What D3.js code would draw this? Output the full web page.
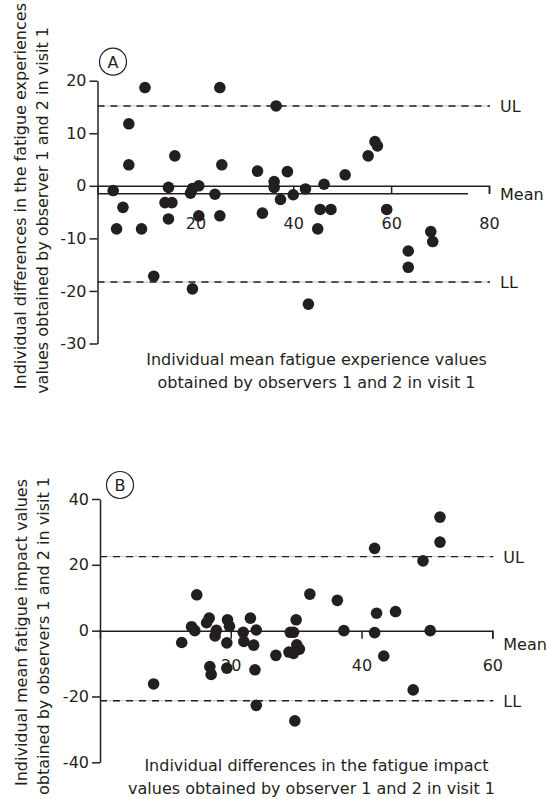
<!DOCTYPE html>
<html>
<head>
<meta charset="utf-8">
<script src="https://cdn.jsdelivr.net/npm/d3@7"></script>
<style>
  body { margin: 0; background: #fff; }
  svg text { font-family: "DejaVu Sans", sans-serif; fill: #231f20; }
</style>
</head>
<body>
<div id="chart"></div>
<script>
// Panel A - fatigue experience (Bland-Altman)
const meanA = [3.2, 3.9, 5.2, 6.4, 6.4, 9.0, 9.7, 11.5, 14.5, 13.8, 15.2, 14.5, 15.8, 19.0, 19.4,
    20.7, 19.4, 20.7, 24.0, 25.0, 25.4, 25.0, 32.7, 33.7, 36.5, 36.1, 36.1, 37.4, 38.8, 40.0,
    42.5, 43.1, 45.0, 45.5, 46.3, 47.7, 50.6, 55.3, 56.7, 57.2, 59.1, 63.5, 63.5, 68.1, 68.5];
const diffA = [-0.9, -8.2, -4.1, 11.8, 4.0, -8.2, 18.7, -17.2, -0.3, -3.2, -3.2, -6.3, 5.7, -1.4, -0.5,
    0.0, -19.6, -5.7, -1.6, 18.7, 4.0, -5.7, 2.8, -5.2, 15.2, 0.8, -0.3, -2.6, 2.7, -1.7,
    -0.6, -22.5, -8.2, -4.5, 0.3, -4.5, 2.1, 5.7, 8.4, 7.6, -4.5, -12.4, -15.5, -8.7, -10.6];
const xTicksA = [20, 40, 60, 80];
const yTicksA = [-30, -20, -10, 0, 10, 20];
const ulA = 15.2, llA = -18.3, biasA = -1.5, biasEndA = 75.7;

// Panel B - fatigue impact
const meanB = [8.2, 12.5, 14.0, 14.5, 14.8, 16.3, 16.7, 16.8, 17.0, 17.6, 17.8, 19.5, 19.8, 19.4, 19.4,
    21.9, 22.0, 23.0, 23.9, 23.5, 23.7, 23.9, 26.9, 28.9, 29.1, 29.6, 30.0, 30.1, 30.5, 29.6,
    29.8, 32.1, 36.3, 37.3, 42.0, 42.0, 42.3, 43.4, 45.2, 47.9, 49.4, 50.5, 52.0, 52.0];
const diffB = [-16.2, -3.6, 1.2, 0, 10.9, 2.4, 3.8, -10.9, -13.3, -1.6, 0.1, 3.3, 1.3, -3.7, -11.4,
    -0.5, -3.3, 3.8, 0.2, -4.4, -11.9, -22.7, -7.5, -6.5, -0.5, -0.5, 3.3, -4.3, -5.6, -6.9,
    -27.4, 11.1, 9.2, 0, 25.0, -0.6, 5.3, -7.7, 5.8, -18.0, 21.2, 0, 34.5, 26.9];
const xTicksB = [20, 40, 60];
const yTicksB = [-40, -20, 0, 20, 40];
const ulB = 22.5, llB = -21.3;

const ink = "#231f20";
const fs = 16;
const width = 546;
const height = 799;

// Create the SVG container.
const svg = d3.select("#chart").append("svg")
    .attr("width", width)
    .attr("height", height);

function drawPanel(p) {
    const x = d3.scaleLinear().domain(p.xDomain).range(p.xRange);
    const y = d3.scaleLinear().domain(p.yDomain).range(p.yRange);
    const g = svg.append("g").style("color", ink);
    const xEnd = x(p.xDomain[1]);

    // y axis
    const gy = g.append("g")
        .attr("transform", `translate(${x(0)},0)`)
        .call(d3.axisLeft(y).tickValues(p.yTicks).tickSize(8).tickSizeOuter(0)
            .tickPadding(3).tickFormat(d => String(d)))
        .attr("font-size", fs)
        .attr("font-family", "DejaVu Sans");
    gy.selectAll("path, line").attr("stroke-width", 1.5);

    // x axis sitting on zero
    const gx = g.append("g")
        .attr("transform", `translate(0,${y(0)})`)
        .call(d3.axisBottom(x).tickValues(p.xTicks).tickSize(8).tickSizeOuter(8)
            .tickPadding(p.xPad).tickFormat(d => String(d)))
        .attr("font-size", fs)
        .attr("font-family", "DejaVu Sans");
    gx.selectAll("path, line").attr("stroke-width", 1.5);

    // limits of agreement
    [p.ul, p.ll].forEach(v => {
        g.append("line")
            .attr("x1", x(0)).attr("x2", xEnd + 1)
            .attr("y1", y(v)).attr("y2", y(v))
            .attr("stroke", "#b5b5b5").attr("stroke-width", 0.8);
        g.append("line")
            .attr("x1", x(0)).attr("x2", xEnd + 1)
            .attr("y1", y(v)).attr("y2", y(v))
            .attr("stroke", ink).attr("stroke-width", 1.4)
            .attr("stroke-dasharray", "7,6");
    });

    // mean difference line (panel A only)
    if (p.bias !== null) {
        g.append("line")
            .attr("x1", x(0)).attr("x2", x(p.biasEnd))
            .attr("y1", y(p.bias)).attr("y2", y(p.bias))
            .attr("stroke", ink).attr("stroke-width", 1.5);
    }

    // right hand labels
    const lx = xEnd + 11;
    g.append("text").attr("x", lx).attr("y", y(p.ul) + 6).attr("font-size", fs).text("UL");
    g.append("text").attr("x", lx).attr("y", y(p.ll) + 6).attr("font-size", fs).text("LL");
    g.append("text").attr("x", lx).attr("y", y(p.bias !== null ? p.bias : 0) + p.meanDy)
        .attr("font-size", fs).text("Mean");

    // points
    g.selectAll("circle.pt")
        .data(p.xs.map((d, i) => [d, p.ys[i]]))
        .enter()
        .append("circle")
        .attr("class", "pt")
        .attr("cx", d => x(d[0]))
        .attr("cy", d => y(d[1]))
        .attr("r", 5.8)
        .attr("fill", ink);

    // panel letter in a circle
    const cx = x(0) + p.tagDx, cy = y(p.yDomain[1]) - p.tagDy;
    g.append("circle").attr("cx", cx).attr("cy", cy).attr("r", 13.5)
        .attr("fill", "none").attr("stroke", ink).attr("stroke-width", 1.2);
    g.append("text").attr("x", cx).attr("y", cy + 6)
        .attr("text-anchor", "middle").attr("font-size", fs).text(p.tag);

    // x axis title
    p.xTitle.forEach((t, i) => {
        g.append("text")
            .attr("x", p.xTitleX[i])
            .attr("y", p.xTitleY + i * 23)
            .attr("text-anchor", "middle")
            .attr("font-size", fs)
            .text(t);
    });

    // y axis title, anchored at its top end
    p.yTitle.forEach((t, i) => {
        g.append("text")
            .attr("transform", `translate(${p.yTitleX + i * 22},${p.yTitleTop[i]}) rotate(-90)`)
            .attr("text-anchor", "end")
            .attr("font-size", fs)
            .text(t);
    });
}

drawPanel({
    xs: meanA, ys: diffA,
    xDomain: [0, 80], xRange: [97.5, 489],
    yDomain: [-30, 20], yRange: [343.5, 80.7],
    xTicks: xTicksA, yTicks: yTicksA, xPad: 24,
    ul: ulA, ll: llA, bias: biasA, biasEnd: biasEndA, meanDy: 6,
    tag: "A", tagDx: 15.5, tagDy: 19,
    xTitle: ["Individual mean fatigue experience values",
             "obtained by observers 1 and 2 in visit 1"],
    xTitleX: [316.5, 316.5], xTitleY: 365,
    yTitle: ["Individual differences in the fatigue experiences",
             "values obtained by observer 1 and 2 in visit 1"],
    yTitleX: 26, yTitleTop: [3, 27]
});

drawPanel({
    xs: meanB, ys: diffB,
    xDomain: [0, 60], xRange: [100, 492.3],
    yDomain: [-40, 40], yRange: [762.3, 499],
    xTicks: xTicksB, yTicks: yTicksB, xPad: 21,
    ul: ulB, ll: llB, bias: null, biasEnd: null, meanDy: 19,
    tag: "B", tagDx: 20, tagDy: 14,
    xTitle: ["Individual differences in the fatigue impact",
             "values obtained by observer 1 and 2 in visit 1"],
    xTitleX: [316.5, 311.5], xTitleY: 771,
    yTitle: ["Individual mean fatigue impact values",
             "obtained by observers 1 and 2 in visit 1"],
    yTitleX: 27, yTitleTop: [479, 477]
});
</script>
</body>
</html>
